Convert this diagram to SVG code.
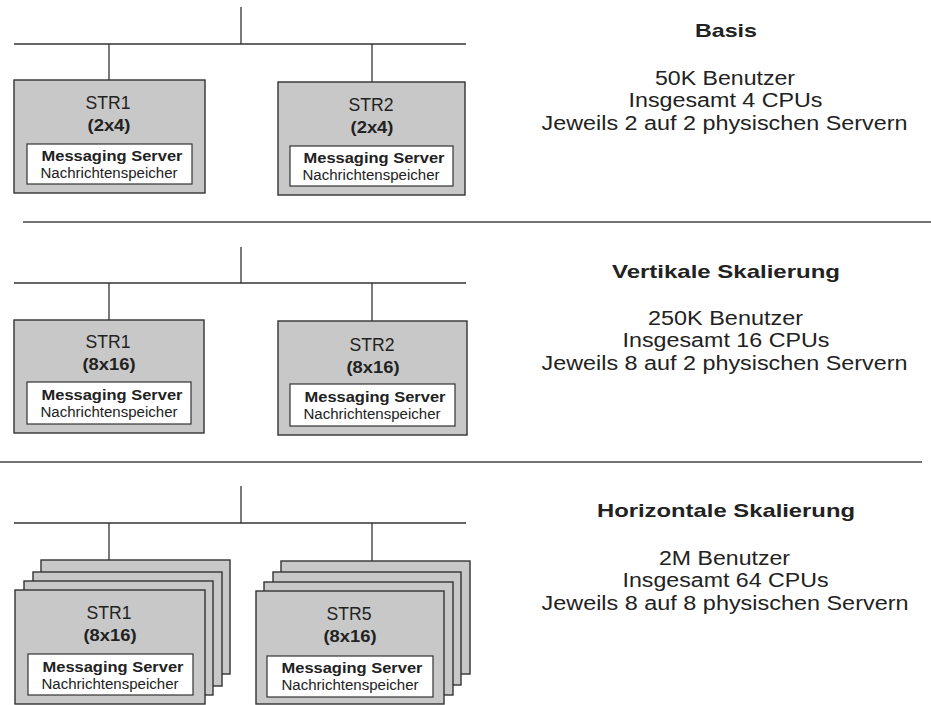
<svg xmlns="http://www.w3.org/2000/svg" width="931" height="705" viewBox="0 0 931 705">
<style>
  .bg{fill:#ffffff}
  .srv{fill:#c8c8c8;stroke:#333333;stroke-width:1.4}
  .inner{fill:#ffffff;stroke:#333333;stroke-width:1.2}
  .ln{stroke:#333333;stroke-width:1.3;fill:none}
  .sep{stroke:#444444;stroke-width:1.6;fill:none}
  text{font-family:"Liberation Sans",Arial,Helvetica,sans-serif;fill:#222222;text-anchor:middle}
  .name{font-size:17.5px}
  .dim{font-size:17px;font-weight:bold}
  .ms{font-size:15.5px;font-weight:bold}
  .ns{font-size:15.5px}
  .title{font-size:19px;font-weight:bold}
  .info{font-size:19.5px}
</style>
<rect class="bg" x="0" y="0" width="931" height="705"/>

<g id="separators">
  <line class="sep" x1="23" y1="222" x2="931" y2="222"/>
  <line class="sep" x1="0" y1="462" x2="922" y2="462"/>
</g>

<g id="connectors">
  <line class="ln" x1="241" y1="7" x2="241" y2="44"/>
  <line class="ln" x1="14" y1="44" x2="466" y2="44"/>
  <line class="ln" x1="109" y1="44" x2="109" y2="80"/>
  <line class="ln" x1="372" y1="44" x2="372" y2="82"/>

  <line class="ln" x1="241" y1="247" x2="241" y2="283"/>
  <line class="ln" x1="14" y1="283" x2="466" y2="283"/>
  <line class="ln" x1="109" y1="283" x2="109" y2="320"/>
  <line class="ln" x1="372" y1="283" x2="372" y2="321"/>

  <line class="ln" x1="241" y1="486" x2="241" y2="523"/>
  <line class="ln" x1="14" y1="523" x2="466" y2="523"/>
  <line class="ln" x1="109" y1="523" x2="109" y2="560"/>
  <line class="ln" x1="372" y1="523" x2="372" y2="561"/>
</g>

<g id="basis-str1">
  <rect class="srv" x="14" y="80" width="191" height="113"/>
  <text class="name" x="108" y="109" textLength="45" lengthAdjust="spacingAndGlyphs">STR1</text>
  <text class="dim" x="109" y="131" textLength="43" lengthAdjust="spacingAndGlyphs">(2x4)</text>
  <rect class="inner" x="27" y="144" width="165" height="40"/>
  <text class="ms" x="112" y="160.5" textLength="141" lengthAdjust="spacingAndGlyphs">Messaging Server</text>
  <text class="ns" x="109" y="178" textLength="137" lengthAdjust="spacingAndGlyphs">Nachrichtenspeicher</text>
</g>

<g id="basis-str2">
  <rect class="srv" x="278" y="82" width="187" height="113"/>
  <text class="name" x="371" y="111" textLength="45" lengthAdjust="spacingAndGlyphs">STR2</text>
  <text class="dim" x="372" y="133" textLength="43" lengthAdjust="spacingAndGlyphs">(2x4)</text>
  <rect class="inner" x="290" y="146" width="163" height="40"/>
  <text class="ms" x="374" y="162.5" textLength="141" lengthAdjust="spacingAndGlyphs">Messaging Server</text>
  <text class="ns" x="371" y="180" textLength="137" lengthAdjust="spacingAndGlyphs">Nachrichtenspeicher</text>
</g>

<g id="vertikal-str1">
  <rect class="srv" x="14" y="320" width="190" height="113"/>
  <text class="name" x="108" y="348" textLength="45" lengthAdjust="spacingAndGlyphs">STR1</text>
  <text class="dim" x="109" y="370" textLength="53" lengthAdjust="spacingAndGlyphs">(8x16)</text>
  <rect class="inner" x="27" y="382" width="164" height="42"/>
  <text class="ms" x="112" y="400" textLength="141" lengthAdjust="spacingAndGlyphs">Messaging Server</text>
  <text class="ns" x="109" y="417" textLength="137" lengthAdjust="spacingAndGlyphs">Nachrichtenspeicher</text>
</g>

<g id="vertikal-str2">
  <rect class="srv" x="278" y="321" width="189" height="114"/>
  <text class="name" x="372" y="351" textLength="45" lengthAdjust="spacingAndGlyphs">STR2</text>
  <text class="dim" x="373" y="373" textLength="53" lengthAdjust="spacingAndGlyphs">(8x16)</text>
  <rect class="inner" x="290" y="384" width="165" height="42"/>
  <text class="ms" x="375" y="402" textLength="141" lengthAdjust="spacingAndGlyphs">Messaging Server</text>
  <text class="ns" x="372" y="419" textLength="137" lengthAdjust="spacingAndGlyphs">Nachrichtenspeicher</text>
</g>

<g id="horizontal-str1">
  <rect class="srv" x="41" y="560" width="189" height="114"/>
  <rect class="srv" x="33" y="572" width="189" height="114"/>
  <rect class="srv" x="24" y="581" width="189" height="114"/>
  <rect class="srv" x="15" y="590" width="190" height="114"/>
  <text class="name" x="109" y="619" textLength="45" lengthAdjust="spacingAndGlyphs">STR1</text>
  <text class="dim" x="110" y="641" textLength="53" lengthAdjust="spacingAndGlyphs">(8x16)</text>
  <rect class="inner" x="28" y="654" width="165" height="41"/>
  <text class="ms" x="113" y="672" textLength="141" lengthAdjust="spacingAndGlyphs">Messaging Server</text>
  <text class="ns" x="110" y="689" textLength="137" lengthAdjust="spacingAndGlyphs">Nachrichtenspeicher</text>
</g>

<g id="horizontal-str5">
  <rect class="srv" x="281" y="561" width="189" height="113"/>
  <rect class="srv" x="273" y="572" width="188" height="113"/>
  <rect class="srv" x="264" y="582" width="189" height="113"/>
  <rect class="srv" x="256" y="591" width="188" height="113"/>
  <text class="name" x="349" y="620" textLength="45" lengthAdjust="spacingAndGlyphs">STR5</text>
  <text class="dim" x="350" y="642" textLength="53" lengthAdjust="spacingAndGlyphs">(8x16)</text>
  <rect class="inner" x="267" y="656" width="166" height="41"/>
  <text class="ms" x="352" y="673" textLength="141" lengthAdjust="spacingAndGlyphs">Messaging Server</text>
  <text class="ns" x="350" y="690" textLength="137" lengthAdjust="spacingAndGlyphs">Nachrichtenspeicher</text>
</g>

<g id="label-basis">
  <text class="title" x="726" y="36.5" textLength="62" lengthAdjust="spacingAndGlyphs">Basis</text>
  <text class="info" x="725" y="84.5" textLength="140" lengthAdjust="spacingAndGlyphs">50K Benutzer</text>
  <text class="info" x="725.5" y="107" textLength="194" lengthAdjust="spacingAndGlyphs">Insgesamt 4 CPUs</text>
  <text class="info" x="724.5" y="129.5" textLength="366" lengthAdjust="spacingAndGlyphs">Jeweils 2 auf 2 physischen Servern</text>
</g>

<g id="label-vertikal">
  <text class="title" x="726" y="277.5" textLength="228" lengthAdjust="spacingAndGlyphs">Vertikale Skalierung</text>
  <text class="info" x="725.5" y="324.5" textLength="155" lengthAdjust="spacingAndGlyphs">250K Benutzer</text>
  <text class="info" x="726" y="347" textLength="207" lengthAdjust="spacingAndGlyphs">Insgesamt 16 CPUs</text>
  <text class="info" x="724.5" y="369.5" textLength="366" lengthAdjust="spacingAndGlyphs">Jeweils 8 auf 2 physischen Servern</text>
</g>

<g id="label-horizontal">
  <text class="title" x="726" y="517" textLength="258" lengthAdjust="spacingAndGlyphs">Horizontale Skalierung</text>
  <text class="info" x="724.5" y="564.5" textLength="131" lengthAdjust="spacingAndGlyphs">2M Benutzer</text>
  <text class="info" x="725.5" y="587" textLength="206" lengthAdjust="spacingAndGlyphs">Insgesamt 64 CPUs</text>
  <text class="info" x="725" y="609.5" textLength="367" lengthAdjust="spacingAndGlyphs">Jeweils 8 auf 8 physischen Servern</text>
</g>
</svg>
